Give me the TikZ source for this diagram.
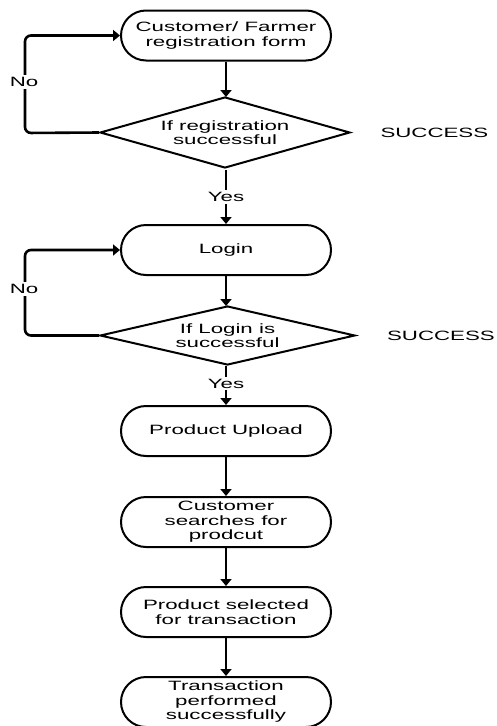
\documentclass[tikz,border=0pt]{standalone}
\usepackage{fontspec}
\setmainfont[FakeStretch=1.65]{Liberation Sans}
\usetikzlibrary{shapes.geometric,arrows.meta}
\begin{document}
\begin{tikzpicture}[x=1pt,y=-1pt,
  txt/.style={font=\fontsize{13.5}{14.5}\selectfont},
  term/.style={draw,line width=2pt,rounded corners=25pt,minimum width=210pt,minimum height=50pt,align=center,inner sep=0pt,txt},
  decision/.style={draw,diamond,line width=2pt,inner sep=0pt},
  dtext/.style={align=center,inner sep=0pt,txt},
  conn/.style={line width=2.6pt,-{Triangle[width=11pt,length=7pt]}},
  lbl/.style={fill=white,inner sep=2pt,txt}]
\useasboundingbox (0,0) rectangle (497,726);
\node[term] (t1) at (226,35.5) {Customer/ Farmer\\registration form};
\node[decision,minimum width=250pt,minimum height=71pt] (d1) at (225,132.5) {};
\node[dtext] (d1t) at (225,132.5) {If registration\\successful};
\node[term] (t2) at (226,250) {Login};
\node[decision,minimum width=255pt,minimum height=59pt] (d2) at (227.5,335.5) {};
\node[dtext] (d2t) at (227.5,335.5) {If Login is\\successful};
\node[term] (t3) at (226,431) {Product Upload};
\node[term] (t4) at (226,522) {Customer\\searches for\\prodcut};
\node[term] (t5) at (226,612) {Product selected\\for transaction};
\node[term] (t6) at (226,702) {Transaction\\performed\\successfully};
\node[txt,anchor=west] (s1) at (377,133) {SUCCESS};
\node[txt,anchor=east,inner sep=0pt] (s2) at (495,336) {SUCCESS};
\coordinate (c1) at (25,133);
\coordinate (c2) at (25,35.5);
\coordinate (c3) at (25,335.5);
\coordinate (c4) at (25,250);
\draw[conn] (t1.south) -- (226,97);
\draw[conn] (226,170) -- node[lbl] (y1) {Yes} (t2.north);
\draw[conn,rounded corners=6pt] (d1.west) -- (c1) -- (c2) -- (t1.west);
\node[lbl] (n1) at (24,82) {No};
\draw[conn] (t2.south) -- (226,306);
\draw[conn] (226,366) -- node[lbl,pos=0.45] (y2) {Yes} (t3.north);
\draw[conn,rounded corners=6pt] (d2.west) -- (c3) -- (c4) -- (t2.west);
\node[lbl] (n2) at (24,289) {No};
\draw[conn] (t3) -- (t4);
\draw[conn] (t4) -- (t5);
\draw[conn] (t5) -- (t6);
\end{tikzpicture}
\end{document}
